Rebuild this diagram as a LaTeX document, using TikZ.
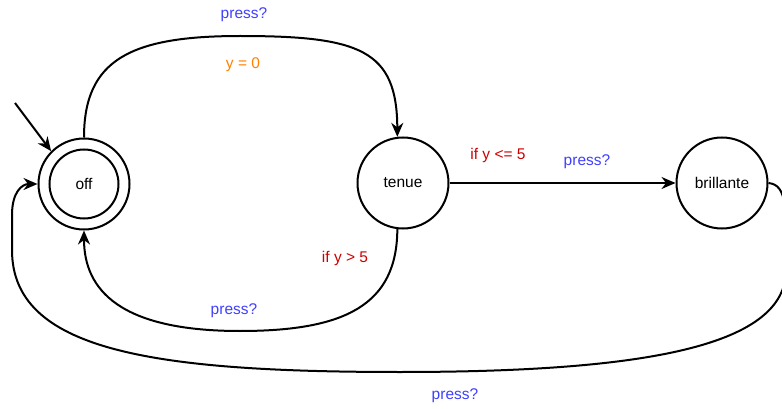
\documentclass[tikz,border=0pt]{standalone}
\usepackage{fontspec}
\setmainfont{Liberation Sans}
\usetikzlibrary{arrows.meta}
\definecolor{actblue}{HTML}{3F3FFF}
\definecolor{updorange}{HTML}{FF8000}
\definecolor{guardred}{HTML}{CC0000}
\begin{document}
\begin{tikzpicture}[x=1pt,y=-1pt,
  font=\fontsize{15.5}{18}\selectfont,
  state/.style={draw,circle,line width=2pt,minimum size=91pt,inner sep=0pt},
  innerring/.style={draw,circle,line width=2pt,minimum size=69pt,inner sep=0pt},
  edge/.style={line width=2pt,-{Stealth[length=14pt,width=12pt,inset=4.5pt]}},
  act/.style={text=actblue},
  upd/.style={text=updorange},
  grd/.style={text=guardred}]
\useasboundingbox (0,0) rectangle (782,409);
\clip (0,0) rectangle (782,409);

% states
\node[state] (off) at (84,184) {};
\node[innerring] (offin) at (84,184) {off};
\node[state] (tenue) at (403,183) {tenue};
\node[state] (brill) at (722,183) {brillante};

% initial marker
\coordinate (init) at (15,103);
\draw[edge] (init) -- (off.135);

% off -> tenue
\draw[edge] (off.north) .. controls (84,60) and (130,36) .. (240,36)
  .. controls (360,36) and (397,50) .. (tenue.97);
\node[act] (l1) at (244,15) {press?};
\node[upd] (l2) at (243,65) {y = 0};

% tenue -> off
\draw[edge] (tenue.263) .. controls (397,305) and (345,331) .. (240,331)
  .. controls (120,331) and (84,290) .. (off.south);
\node[grd] (l3) at (345,258) {if y > 5};
\node[act] (l4) at (234,311) {press?};

% tenue -> brillante
\draw[edge] (tenue.east) -- (brill.west);
\node[grd] (l5) at (498,155) {if y <= 5};
\node[act] (l6) at (587,162) {press?};

% brillante -> off
\draw[edge] (brill.east) .. controls (788,185) and (786,210) .. (786,270)
  .. controls (786,345) and (650,372) .. (400,372)
  .. controls (150,372) and (12,350) .. (12,250)
  -- (12,215) .. controls (12,192) and (22,184) .. (off.west);
\node[act] (l7) at (455,396) {press?};
\end{tikzpicture}
\end{document}
